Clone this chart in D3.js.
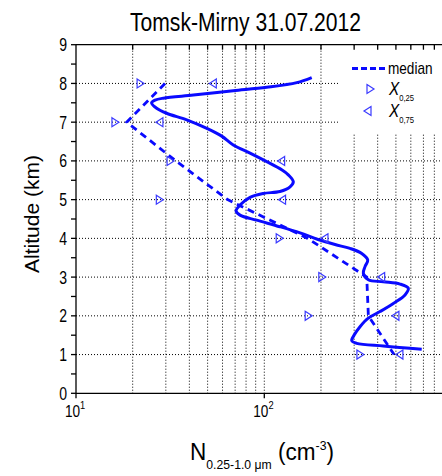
<!DOCTYPE html>
<html>
<head>
<meta charset="utf-8">
<script src="https://cdn.jsdelivr.net/npm/d3@7"></script>
<style>
  body { margin: 0; background: #fff; }
  svg { display: block; font-family: "Liberation Sans", Arial, sans-serif; }
  .grid line { stroke: #000; stroke-width: 1; stroke-dasharray: 1,2; }
</style>
</head>
<body>
<svg id="chart" width="442" height="476"></svg>
<script>
  const LEVELS = [8, 7, 6, 5, 4, 3, 2, 1];
  const MEDIAN = [29.7, 18.6, 33.9, 63.8, 170, 350, 357, 489];
  const Q25 = [21.9, 16.1, 31.6, 27.7, 120, 202, 171, 322];
  const Q75 = [53.6, 27.9, 123.6, 125, 210, 420, 500, 525];

  // smoothed profile (altitude km, concentration)
  const PROF_ALT = [8.15, 8.02, 7.90, 7.81, 7.70, 7.62, 7.57, 7.50, 7.36, 7.23, 7.06, 6.84, 6.64, 6.41,
    6.20, 5.98, 5.77, 5.64, 5.46, 5.33, 5.21, 5.16, 5.06, 4.86, 4.71, 4.60, 4.47, 4.30, 4.14, 3.97,
    3.84, 3.74, 3.61, 3.44, 3.27, 3.10, 2.93, 2.88, 2.82, 2.71, 2.54, 2.32, 2.11, 1.94, 1.72, 1.51,
    1.36, 1.29, 1.22, 1.14];
  const PROF_N = [178.6, 148.7, 103.0, 68.4, 42.0, 29.1, 26.3, 25.2, 26.8, 30.3, 38.7, 49.5, 59.4, 68.4,
    84.0, 103.0, 123.7, 134.1, 142.6, 137.0, 121.1, 98.8, 84.0, 74.3, 70.8, 74.3, 91.1, 121.1, 154.8, 192.9,
    237.4, 285.2, 329.1, 354.2, 342.7, 335.7, 356.8, 428.5, 525.8, 582.1, 558.9, 484.4, 411.6, 356.8, 322.3, 300.7,
    291.3, 309.6, 428.5, 685.5];

  const X_MINOR = [20, 30, 40, 50, 60, 70, 80, 90, 100, 200, 300, 400, 500, 600, 700, 800, 900];
  const X_MAJOR = [{ v: 10, e: "1" }, { v: 100, e: "2" }];
  const Y_TICKS = [0, 1, 2, 3, 4, 5, 6, 7, 8, 9];
  const Y_MINOR = [0.5, 1.5, 2.5, 3.5, 4.5, 5.5, 6.5, 7.5, 8.5];

  const BLUE = "#0a0aff";
  const MARK = "#3a3aff";
  const L = 76, T = 44.7, B = 393.3;

  const svg = d3.select("#chart");
  const x = d3.scaleLog().domain([10, 1000]).range([L, L + 2 * 188.3]);
  const y = d3.scaleLinear().domain([0, 9]).range([B, T]);

  // grid
  const grid = svg.append("g").attr("class", "grid");
  grid.selectAll(".gy").data([1, 2, 3, 4, 5, 6, 7, 8]).join("line")
    .attr("x1", L).attr("x2", 442).attr("y1", d => y(d)).attr("y2", d => y(d));
  grid.selectAll(".gx").data(X_MINOR).join("line")
    .attr("x1", d => x(d)).attr("x2", d => x(d)).attr("y1", T).attr("y2", B);

  // legend background hides grid
  svg.append("rect").attr("x", 340).attr("y", T + 1).attr("width", 102).attr("height", 88).attr("fill", "#fff");

  // axes
  const ax = svg.append("g").attr("stroke", "#000").attr("stroke-width", 1.3);
  ax.append("line").attr("x1", L).attr("x2", 442).attr("y1", B).attr("y2", B);
  ax.append("line").attr("x1", L).attr("x2", 442).attr("y1", T).attr("y2", T);
  ax.append("line").attr("x1", L).attr("x2", L).attr("y1", T).attr("y2", B);
  ax.selectAll(".yt").data(Y_TICKS.concat(Y_MINOR)).join("line")
    .attr("x1", L - 5).attr("x2", L).attr("y1", d => y(d)).attr("y2", d => y(d));
  ax.selectAll(".xt").data(X_MINOR).join("line")
    .attr("x1", d => x(d)).attr("x2", d => x(d)).attr("y1", T).attr("y2", T + 5);
  ax.selectAll(".xb").data(X_MAJOR).join("line")
    .attr("x1", d => x(d.v)).attr("x2", d => x(d.v)).attr("y1", B).attr("y2", B + 5);

  // narrow-looking labels: squeeze horizontally
  svg.selectAll(".ylab").data(Y_TICKS).join("text")
    .attr("transform", d => `translate(${L - 9},${y(d) + 6.5}) scale(0.78,1)`)
    .attr("text-anchor", "end").style("font-size", "18px").text(d => d);

  const xl = svg.selectAll(".xlab").data(X_MAJOR).join("text")
    .attr("transform", d => `translate(${x(d.v) - 11},417) scale(0.85,1)`).style("font-size", "16px");
  xl.append("tspan").text("10");
  xl.append("tspan").attr("dy", -8).style("font-size", "11px").text(d => d.e);

  // title
  svg.append("text").attr("x", 130).attr("y", 31).attr("textLength", 231).attr("lengthAdjust", "spacingAndGlyphs")
    .style("font-size", "25px").text("Tomsk-Mirny 31.07.2012");

  svg.append("text").attr("transform", "translate(39,214) rotate(-90)").attr("text-anchor", "middle")
    .style("font-size", "21px").text("Altitude (km)");

  const xt = svg.append("text").attr("transform", "translate(190,460) scale(0.94,1)").style("font-size", "24px");
  xt.append("tspan").text("N");
  xt.append("tspan").attr("dy", 9).style("font-size", "13px").text("0.25-1.0 \u03bcm");
  xt.append("tspan").attr("dy", -9).text(" (cm");
  xt.append("tspan").attr("dy", -10).style("font-size", "13px").text("-3");
  xt.append("tspan").attr("dy", 10).text(")");

  // data
  const lineGen = d3.line().x(d => x(d[0])).y(d => y(d[1]));
  svg.append("path")
    .datum(LEVELS.map((a, i) => [MEDIAN[i], a]))
    .attr("d", lineGen).attr("fill", "none").attr("stroke", BLUE)
    .attr("stroke-width", 2.8).attr("stroke-dasharray", "7,5");

  svg.append("path")
    .datum(PROF_ALT.map((a, i) => [PROF_N[i], a]))
    .attr("d", lineGen.curve(d3.curveCatmullRom.alpha(0.5))).attr("fill", "none").attr("stroke", BLUE)
    .attr("stroke-width", 3);

  const triR = "M-3,-4.5 L4,0 L-3,4.5 Z";
  const triL = "M3,-4.5 L-4,0 L3,4.5 Z";
  svg.selectAll(".q25").data(LEVELS).join("path")
    .attr("transform", (d, i) => `translate(${x(Q25[i])},${y(d)})`)
    .attr("d", triR).attr("fill", "none").attr("stroke", MARK).attr("stroke-width", 1.2);
  svg.selectAll(".q75").data(LEVELS).join("path")
    .attr("transform", (d, i) => `translate(${x(Q75[i])},${y(d)})`)
    .attr("d", triL).attr("fill", "none").attr("stroke", MARK).attr("stroke-width", 1.2);

  // legend
  const lg = svg.append("g");
  lg.append("line").attr("x1", 352).attr("x2", 387).attr("y1", 68.5).attr("y2", 68.5)
    .attr("stroke", BLUE).attr("stroke-width", 2.8).attr("stroke-dasharray", "6,3");
  lg.append("text").attr("transform", "translate(388,74) scale(0.85,1)").style("font-size", "16px").text("median");
  lg.append("path").attr("transform", "translate(370,89)").attr("d", triR)
    .attr("fill", "none").attr("stroke", MARK).attr("stroke-width", 1.2);
  lg.append("path").attr("transform", "translate(368,111)").attr("d", triL)
    .attr("fill", "none").attr("stroke", MARK).attr("stroke-width", 1.2);
  [["0,25", 95], ["0,75", 117]].forEach(([s, yy]) => {
    const t = lg.append("text").attr("transform", `translate(389,${yy}) scale(0.85,1)`).style("font-size", "18px");
    t.append("tspan").style("font-style", "italic").text("X");
    t.append("tspan").attr("dy", 6).style("font-size", "9px").text(s);
  });
</script>
</body>
</html>
